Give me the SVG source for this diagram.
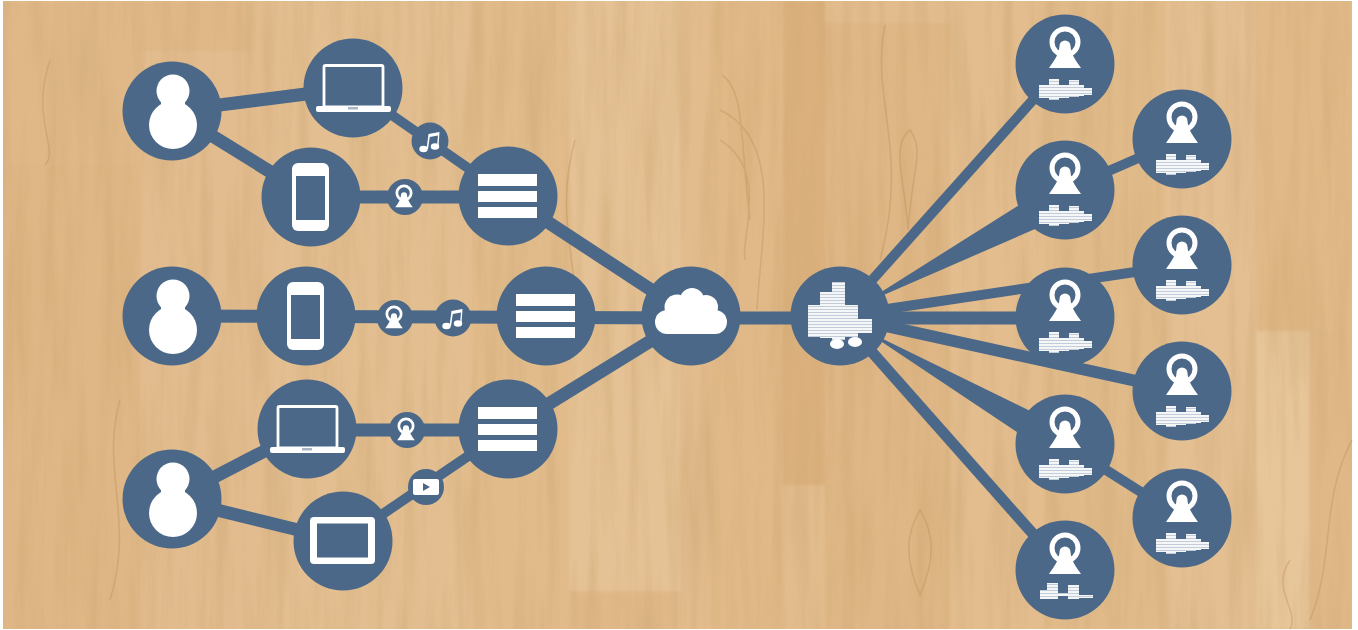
<svg xmlns="http://www.w3.org/2000/svg" width="1358" height="630" viewBox="0 0 1358 630">
<style>
.n{fill:#4b6888}
.w{fill:#fff}
.l{stroke:#4b6888;fill:none;stroke-width:13}
.t{stroke:#4b6888;fill:none;stroke-width:10}
.g{fill:none;stroke:#b4834d;stroke-opacity:.3;stroke-width:1.6}
</style>
<defs>
<filter id="grain" x="0" y="0" width="100%" height="100%"><feTurbulence type="fractalNoise" baseFrequency="0.07 0.005" numOctaves="4" seed="11"/><feColorMatrix type="matrix" values="0 0 0 0 0.60  0 0 0 0 0.38  0 0 0 0 0.17  2 0 0 0 -0.8"/></filter>
<filter id="soft" x="-5%" y="-5%" width="110%" height="110%"><feGaussianBlur stdDeviation="0.7"/></filter>
<filter id="plank" x="0" y="0" width="100%" height="100%"><feGaussianBlur stdDeviation="1.5"/></filter>
<pattern id="st" width="4" height="3" patternUnits="userSpaceOnUse"><rect width="4" height="3" fill="#c3cdd9"/><rect width="4" height="2" fill="#f4f6f8"/></pattern>
<g id="person" class="w"><circle cx="1" cy="-20" r="16.500"/><ellipse cx="1" cy="14" rx="24" ry="24"/><rect x="-11" y="-10" width="24" height="12"/></g>
<g id="laptop"><rect x="-29" y="-22.500" width="59" height="41.500" fill="none" stroke="#fff" stroke-width="2.800" rx="1.500"/><rect class="w" x="-37" y="18" width="75" height="6" rx="2"/><rect x="-5" y="19" width="10" height="2.500" fill="#a9b6c6"/></g>
<g id="phone"><rect class="w" x="-19" y="-34" width="37" height="68" rx="6"/><rect class="n" x="-15" y="-21" width="29" height="44"/></g>
<g id="stack" class="w"><rect x="-30" y="-22" width="59" height="12"/><rect x="-30" y="-5" width="59" height="11"/><rect x="-30" y="11" width="59" height="11"/></g>
<g id="cam"><circle r="13" fill="none" stroke="#fff" stroke-width="5"/><path class="w" d="M-16 26C-11 19-6 12-5.500 4A5.500 5.500 0 0 1 5.500 4C6 12 11 19 16 26Z"/></g>
<g id="note" fill="#fff"><ellipse cx="-6.500" cy="8" rx="4.200" ry="3.300"/><ellipse cx="5" cy="5.500" rx="4.200" ry="3.300"/><path d="M-3.500 8L-1.500-7 9.500-9 8.500 5.500H7L8-5.500-.2-4-2 8Z"/></g>
<g id="eq" fill="url(#st)"><rect x="-26" y="21" width="10" height="13"/><rect x="-16" y="15" width="10" height="21"/><rect x="-6" y="21" width="10" height="13"/><rect x="4" y="16" width="10" height="17"/><rect x="14" y="21" width="5" height="11"/><rect x="19" y="24" width="8" height="7"/></g>
<g id="rn"><circle class="n" r="49.500"/><use href="#cam" y="-22"/><use href="#eq"/></g>
</defs>
<g id="wood">
<rect width="1358" height="630" fill="#fff"/>
<rect x="3" y="1" width="1349" height="628" fill="#e2bc8d"/>
<g filter="url(#plank)">
<rect x="3" y="1" width="137" height="164" fill="#e0b888"/>
<rect x="3" y="165" width="137" height="464" fill="#dfb685"/>
<rect x="140" y="1" width="110" height="50" fill="#e0b888"/>
<rect x="140" y="51" width="135" height="578" fill="#e2bc8e"/>
<rect x="275" y="1" width="295" height="628" fill="#e3be90"/>
<rect x="470" y="1" width="100" height="628" fill="#e2bb8b"/>
<rect x="570" y="1" width="110" height="590" fill="#e5c295"/>
<rect x="570" y="591" width="110" height="38" fill="#e0b888"/>
<rect x="710" y="1" width="73" height="628" fill="#e1b988"/>
<rect x="783" y="1" width="42" height="484" fill="#dbb07c"/>
<rect x="825" y="23" width="125" height="606" fill="#dfb685"/>
<rect x="950" y="1" width="95" height="628" fill="#e3bd8e"/>
<rect x="1045" y="1" width="120" height="628" fill="#e1ba8a"/>
<rect x="1165" y="1" width="91" height="628" fill="#e4bf92"/>
<rect x="1256" y="1" width="96" height="330" fill="#e1b988"/>
<rect x="1256" y="331" width="53" height="298" fill="#e7c69a"/>
<rect x="1309" y="331" width="43" height="298" fill="#e0b888"/>
</g>
<rect x="3" y="1" width="1349" height="628" filter="url(#grain)" opacity=".45"/>
<path class="g" d="M920 510C905 535 905 560 920 595C935 560 935 535 920 510ZM720 140C770 170 740 240 745 260M720 110C785 140 760 240 757 310M722 75C745 90 740 140 750 220M910 130C890 145 905 180 908 230C912 170 925 150 910 130ZM885 25C870 100 910 150 880 260M1310 620C1335 560 1320 500 1352 440M575 140C550 230 590 280 570 360M120 400C100 470 135 520 110 600M50 60C30 120 60 150 45 165M1290 560C1270 590 1300 610 1290 629"/>
</g>
<g id="connectors">
<line class="l" x1="172" y1="111" x2="353" y2="88"/>
<line class="l" x1="172" y1="111" x2="311" y2="197"/>
<line class="t" x1="353" y1="88" x2="508" y2="196"/>
<line class="l" x1="311" y1="197" x2="508" y2="197"/>
<line class="l" x1="508" y1="196" x2="691" y2="316"/>
<line class="l" x1="172" y1="316" x2="691" y2="318"/>
<line class="l" x1="172" y1="499" x2="307" y2="429"/>
<line class="l" x1="172" y1="499" x2="343" y2="541"/>
<line class="l" x1="307" y1="430" x2="508" y2="430"/>
<line class="t" x1="343" y1="541" x2="508" y2="429"/>
<line class="l" x1="508" y1="429" x2="691" y2="316"/>
<line class="l" x1="691" y1="318" x2="840" y2="318"/>
<line class="t" x1="840" y1="316" x2="1065" y2="64"/>
<polygon class="n" points="840,314 840,318 1065,176 1065,216"/>
<line class="t" x1="1065" y1="190" x2="1182" y2="139"/>
<line class="t" x1="840" y1="316" x2="1182" y2="265"/>
<line class="l" x1="840" y1="318" x2="1065" y2="318"/>
<line class="l" x1="840" y1="316" x2="1182" y2="391" style="stroke-width:12"/>
<polygon class="n" points="840,314 840,318 1065,428 1065,464"/>
<line class="t" x1="1065" y1="444" x2="1182" y2="518"/>
<line class="l" x1="840" y1="316" x2="1065" y2="570" style="stroke-width:11"/>
</g>
<g id="nodes" filter="url(#soft)">
<g id="user1" transform="translate(172 111)"><circle class="n" r="49.500"/><use href="#person"/></g>
<g id="laptop1" transform="translate(353 88)"><circle class="n" r="49.500"/><use href="#laptop"/></g>
<g id="phone1" transform="translate(311 197)"><circle class="n" r="49.500"/><use href="#phone"/></g>
<g id="stack1" transform="translate(508 196)"><circle class="n" r="49.500"/><use href="#stack"/></g>
<g id="music1" transform="translate(430 141)"><circle class="n" r="18.500"/><use href="#note"/></g>
<g id="cam1" transform="translate(405 197)"><circle class="n" r="18"/><use href="#cam" transform="translate(-1 -4) scale(.55)"/></g>
<g id="user2" transform="translate(172 316)"><circle class="n" r="49.500"/><use href="#person"/></g>
<g id="phone2" transform="translate(306 316)"><circle class="n" r="49.500"/><use href="#phone"/></g>
<g id="cam2" transform="translate(395 318)"><circle class="n" r="18"/><use href="#cam" transform="translate(-1 -4) scale(.55)"/></g>
<g id="music2" transform="translate(453 318)"><circle class="n" r="18.500"/><use href="#note"/></g>
<g id="stack2" transform="translate(546 316)"><circle class="n" r="49.500"/><use href="#stack"/></g>
<g id="user3" transform="translate(172 499)"><circle class="n" r="49.500"/><use href="#person"/></g>
<g id="laptop3" transform="translate(307 429)"><circle class="n" r="49.500"/><use href="#laptop"/></g>
<g id="cam3" transform="translate(407 430)"><circle class="n" r="18"/><use href="#cam" transform="translate(-1 -4) scale(.55)"/></g>
<g id="stack3" transform="translate(508 429)"><circle class="n" r="49.500"/><use href="#stack"/></g>
<g id="video" transform="translate(426 487)"><circle class="n" r="18"/><rect class="w" x="-13" y="-8" width="26" height="16" rx="2"/><path class="n" d="M-3-4V4L4 0Z"/></g>
<g id="tablet" transform="translate(343 541)"><circle class="n" r="49.500"/><rect class="w" x="-33" y="-24" width="65" height="47" rx="4"/><rect class="n" x="-26" y="-17.500" width="51" height="34"/></g>
<g id="cloud" transform="translate(691 316)"><circle class="n" r="49.500"/><g class="w"><circle cx="-24" cy="6" r="12"/><circle cx="-14" cy="-9" r="12.500"/><circle cx="1" cy="-16" r="12"/><circle cx="15" cy="-9" r="12"/><circle cx="24" cy="6" r="12"/><rect x="-24" y="-8" width="48" height="26"/></g></g>
<g id="hub" transform="translate(840 316)"><circle class="n" r="49.500"/><g fill="url(#st)"><rect x="-32" y="-11" width="12" height="32"/><rect x="-20" y="-24" width="12" height="46"/><rect x="-8" y="-34" width="13" height="58"/><rect x="5" y="-11" width="13" height="32"/><rect x="18" y="3" width="14" height="14"/></g><ellipse class="w" cx="-3" cy="28" rx="7" ry="5"/><ellipse class="w" cx="15" cy="26" rx="7" ry="5"/></g>
<g id="r1" transform="translate(1065 64)"><use href="#rn"/></g>
<g id="r2" transform="translate(1182 139)"><use href="#rn"/></g>
<g id="r3" transform="translate(1065 190)"><use href="#rn"/></g>
<g id="r4" transform="translate(1182 265)"><use href="#rn"/></g>
<g id="r5" transform="translate(1065 317)"><use href="#rn"/></g>
<g id="r6" transform="translate(1182 391)"><use href="#rn"/></g>
<g id="r7" transform="translate(1065 444)"><use href="#rn"/></g>
<g id="r8" transform="translate(1182 518)"><use href="#rn"/></g>
<g id="r9" transform="translate(1065 570)"><circle class="n" r="49.500"/><use href="#cam" y="-22"/><g fill="url(#st)"><rect x="-25" y="20" width="7" height="9"/><rect x="-18" y="13" width="11" height="16"/><rect x="-7" y="23" width="10" height="3"/><rect x="3" y="15" width="11" height="14"/><rect x="14" y="25" width="14" height="3"/></g></g>
</g>
</svg>
